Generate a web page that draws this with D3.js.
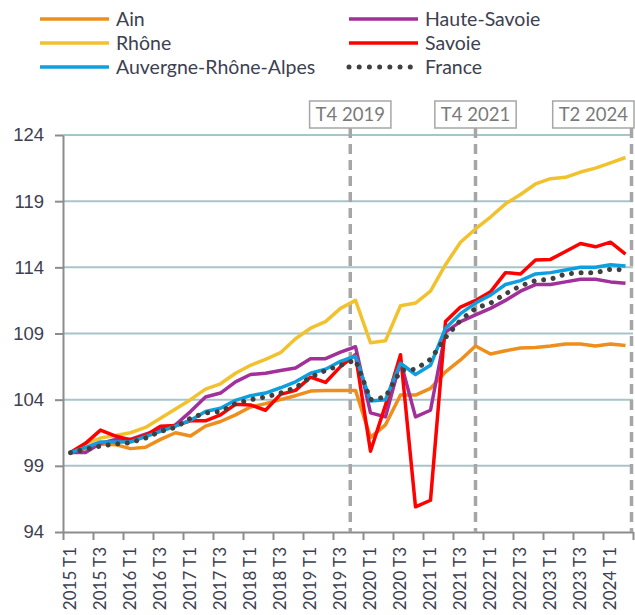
<!DOCTYPE html>
<html lang="fr">
<head>
<meta charset="UTF-8">
<title>Indice de l'emploi salarié - Auvergne-Rhône-Alpes</title>
<script src="https://d3js.org/d3.v7.min.js"></script>
<style>
  body { margin: 0; background: #fff; font-family: Lato, "Open Sans", sans-serif; }
  .tick text { fill: #3d4150; }
</style>
</head>
<body>
<div id="chart"></div>
<script>
// trimestres (base 100 au T1 2015)
const quarters = [
  "2015 T1", "2015 T2", "2015 T3", "2015 T4", "2016 T1", "2016 T2", "2016 T3", "2016 T4",
  "2017 T1", "2017 T2", "2017 T3", "2017 T4", "2018 T1", "2018 T2", "2018 T3", "2018 T4",
  "2019 T1", "2019 T2", "2019 T3", "2019 T4", "2020 T1", "2020 T2", "2020 T3", "2020 T4",
  "2021 T1", "2021 T2", "2021 T3", "2021 T4", "2022 T1", "2022 T2", "2022 T3", "2022 T4",
  "2023 T1", "2023 T2", "2023 T3", "2023 T4", "2024 T1", "2024 T2"
];

const ain = [
  100.0, 100.3, 100.65, 100.6, 100.3, 100.4, 101.0, 101.5, 101.25, 102.0,
  102.35, 102.85, 103.45, 103.7, 104.0, 104.3, 104.65, 104.7, 104.7, 104.7,
  101.15, 102.1, 104.35, 104.35, 104.85, 106.1, 107.0, 108.05,
  107.45, 107.7, 107.9, 107.95, 108.05, 108.2, 108.2, 108.05, 108.2, 108.1
];
const rhone = [
  100.0, 100.7, 101.1, 101.3, 101.5, 101.9, 102.6, 103.3, 104.0, 104.8,
  105.2, 106.0, 106.6, 107.05, 107.55, 108.6, 109.4, 109.9, 110.9, 111.5,
  108.3, 108.45, 111.1, 111.3, 112.2, 114.2, 115.9, 116.9,
  117.8, 118.8, 119.5, 120.3, 120.7, 120.8, 121.2, 121.5, 121.9, 122.3
];
const hauteSavoie = [
  100.0, 100.0, 100.7, 101.0, 101.0, 101.4, 101.75, 102.1, 103.1, 104.2,
  104.5, 105.35, 105.9, 106.0, 106.2, 106.4, 107.1, 107.1, 107.6, 108.0,
  103.0, 102.7, 106.9, 102.7, 103.2, 109.1, 109.9, 110.4,
  110.9, 111.5, 112.2, 112.7, 112.7, 112.9, 113.1, 113.1, 112.9, 112.8
];
const savoie = [
  100.0, 100.7, 101.7, 101.25, 100.95, 101.3, 102.0, 102.05, 102.4, 102.4,
  102.85, 103.65, 103.6, 103.2, 104.4, 104.7, 105.7, 105.3, 106.5, 107.4,
  100.1, 103.6, 107.4, 95.9, 96.4, 109.9, 111.0, 111.5,
  112.15, 113.6, 113.5, 114.55, 114.6, 115.2, 115.8, 115.55, 115.9, 115.0
];
const aura = [
  100.0, 100.4, 100.8, 100.8, 100.8, 101.2, 101.6, 102.0, 102.45, 103.1,
  103.35, 103.95, 104.3, 104.5, 104.9, 105.35, 106.0, 106.3, 106.9, 107.3,
  103.9, 104.0, 106.75, 105.9, 106.6, 109.4, 110.5, 111.3,
  111.9, 112.7, 113.0, 113.5, 113.6, 113.8, 114.0, 114.0, 114.2, 114.1
];
const france = [
  100.0, 100.25, 100.5, 100.65, 100.75, 101.1, 101.6, 101.9, 102.6, 103.0,
  103.1, 103.7, 104.0, 104.2, 104.5, 104.9, 105.7, 106.2, 106.6, 107.0,
  104.0, 104.2, 106.2, 106.3, 107.05, 108.7, 110.0, 110.9,
  111.3, 112.0, 112.6, 113.0, 113.1, 113.5, 113.6, 113.6, 113.85, 113.8
];

const yTicks = [94, 99, 104, 109, 114, 119, 124];

// repères verticaux (position, en trimestres depuis 2015 T1)
const eventLabels = ["T4 2019", "T4 2021", "T2 2024"];
const eventPos = [18.65, 27, 37.4];

const series = [
  { name: "Ain", values: ain, color: "#EE8E1C" },
  { name: "Rhône", values: rhone, color: "#F2C22E" },
  { name: "Haute-Savoie", values: hauteSavoie, color: "#A1309A" },
  { name: "Savoie", values: savoie, color: "#FF0000" },
  { name: "Auvergne-Rhône-Alpes", values: aura, color: "#0E9FDE" },
  { name: "France", values: france, color: "#404040", dotted: true }
];

const width = 635, height = 615;
const plotLeft = 63, plotRight = 633, plotTop = 135, plotBottom = 532;

const svg = d3.select("#chart").append("svg")
  .attr("width", width)
  .attr("height", height);

const x = d3.scalePoint().domain(quarters).range([plotLeft, plotRight]).padding(0.5);
const xi = d3.scaleLinear().domain([-0.5, quarters.length - 0.5]).range([plotLeft, plotRight]);
const y = d3.scaleLinear().domain([94, 124]).range([plotBottom, plotTop]);

// grille horizontale
svg.append("g")
  .selectAll("line")
  .data(yTicks.filter(d => d > 94))
  .join("line")
  .attr("x1", plotLeft).attr("x2", plotRight)
  .attr("y1", d => y(d)).attr("y2", d => y(d))
  .attr("stroke", "#a8c4c9")
  .attr("stroke-width", 2);

// axe Y
const yAxis = svg.append("g")
  .attr("transform", `translate(${plotLeft},0)`)
  .call(d3.axisLeft(y).tickValues(yTicks).tickSize(8).tickSizeOuter(0).tickPadding(11));
yAxis.selectAll("text").style("font-size", "18.5px");
yAxis.selectAll("line, path").attr("stroke", "#8c8c8c").attr("stroke-width", 2);

// axe X : graduations toutes les 2 catégories, entre les points
const xTickPos = d3.range(-0.5, quarters.length, 2);
const xAxis = svg.append("g")
  .attr("transform", `translate(0,${plotBottom})`)
  .call(d3.axisBottom(xi).tickValues(xTickPos).tickSize(8).tickSizeOuter(0).tickFormat(""));
xAxis.selectAll("line, path").attr("stroke", "#8c8c8c").attr("stroke-width", 2);

svg.append("g")
  .selectAll("text")
  .data(quarters.filter((q, i) => i % 2 === 0))
  .join("text")
  .attr("transform", d => `translate(${x(d)},${plotBottom + 15}) rotate(-90)`)
  .attr("text-anchor", "end")
  .attr("dy", "0.35em")
  .attr("fill", "#3d4150")
  .style("font-size", "17px")
  .text(d => d);

// lignes verticales en tirets + étiquettes encadrées
const ev = svg.append("g");
eventLabels.forEach((label, i) => {
  const cx = xi(eventPos[i]);
  ev.append("line")
    .attr("x1", cx).attr("x2", cx)
    .attr("y1", 128).attr("y2", plotBottom)
    .attr("stroke", "#a6a6a6")
    .attr("stroke-width", 3.5)
    .attr("stroke-dasharray", "10,6");
  const t = ev.append("text")
    .attr("y", 121)
    .attr("fill", "#7a7a7a")
    .style("font-size", "18.5px")
    .text(label);
  const w = t.node().getComputedTextLength();
  const bw = w + 12;
  let bx = cx - bw / 2;
  if (bx + bw > width - 1) bx = width - 1 - bw;
  t.attr("x", bx + 6);
  ev.insert("rect", "text")
    .attr("x", bx).attr("y", 101)
    .attr("width", bw).attr("height", 27)
    .attr("fill", "#fff")
    .attr("stroke", "#a6a6a6")
    .attr("stroke-width", 1.5);
});

// courbes
const line = d3.line()
  .x((d, i) => x(quarters[i]))
  .y(d => y(d));

svg.append("g")
  .selectAll("path")
  .data(series)
  .join("path")
  .attr("d", d => line(d.values))
  .attr("fill", "none")
  .attr("stroke", d => d.color)
  .attr("stroke-width", d => d.dotted ? 5 : 3.5)
  .attr("stroke-linecap", d => d.dotted ? "round" : "butt")
  .attr("stroke-linejoin", "round")
  .attr("stroke-dasharray", d => d.dotted ? "0.01,9.6" : null);

// légende
const legendPos = [
  [40, 19], [40, 43], [349, 19], [349, 43], [40, 67], [349, 67]
];
const legend = svg.append("g")
  .selectAll("g")
  .data(series)
  .join("g")
  .attr("transform", (d, i) => `translate(${legendPos[i][0]},${legendPos[i][1]})`);

legend.append("line")
  .attr("x1", 0)
  .attr("x2", d => d.dotted ? 62 : 69)
  .attr("stroke", d => d.color)
  .attr("stroke-width", d => d.dotted ? 5 : 3.5)
  .attr("stroke-linecap", d => d.dotted ? "round" : "butt")
  .attr("stroke-dasharray", d => d.dotted ? "0.01,10.2" : null);

legend.append("text")
  .attr("x", 76)
  .attr("dy", "0.35em")
  .attr("fill", "#3d4150")
  .style("font-size", "19.5px")
  .text(d => d.name);
</script>
</body>
</html>
